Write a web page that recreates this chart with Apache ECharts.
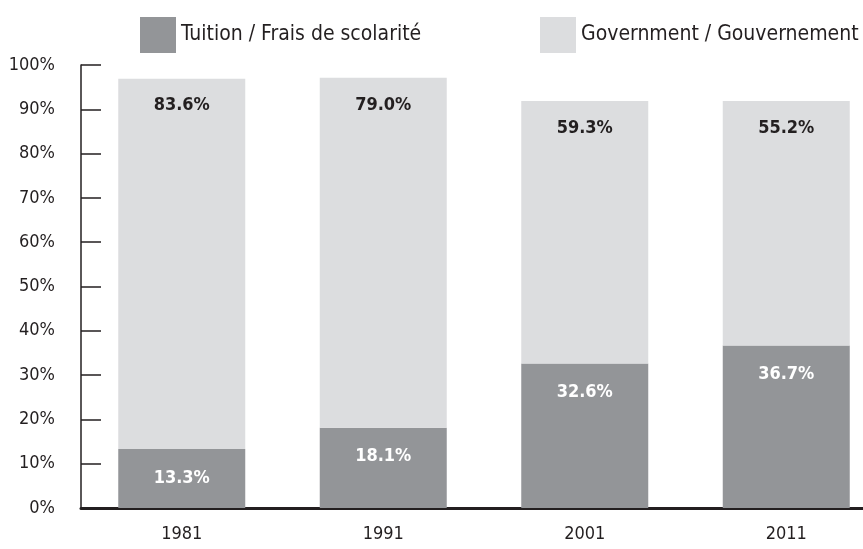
<!DOCTYPE html>
<html>
<head>
<meta charset="utf-8">
<script src="https://cdn.jsdelivr.net/npm/echarts@6/dist/echarts.min.js"></script>
<style>
  html, body { margin: 0; padding: 0; background: #fff; overflow: hidden; }
  /* the axis runs past the right edge of the picture, so the canvas is wider than the window */
  #chart { width: 887px; height: 549px; }
</style>
</head>
<body>
<div id="chart"></div>
<script>
  // data
  var years = ['1981', '1991', '2001', '2011']
  var tuition = [13.3, 18.1, 32.6, 36.7]
  var government = [83.6, 79.0, 59.3, 55.2]
  var tuitionName = 'Tuition / Frais de scolarité'
  var governmentName = 'Government / Gouvernement'

  var font = "'Liberation Sans Narrow', 'DejaVu Sans Condensed', 'Roboto Condensed', sans-serif"
  var ink = '#231f20'

  var chart = echarts.init(document.getElementById('chart'))
  chart.setOption({
    animation: false,
    textStyle: { fontFamily: font },
    legend: [{
      data: [tuitionName],
      left: 140, top: 17, padding: 0,
      itemWidth: 36, itemHeight: 36,
      icon: 'rect',
      textStyle: { fontSize: 21, color: ink, fontFamily: font }
    }, {
      data: [governmentName],
      left: 540, top: 17, padding: 0,
      itemWidth: 36, itemHeight: 36,
      icon: 'rect',
      textStyle: { fontSize: 21, color: ink, fontFamily: font }
    }],
    grid: { left: 81, right: 0, top: 65, bottom: 41 },
    xAxis: {
      type: 'category',
      data: years,
      axisLine: { lineStyle: { color: ink, width: 3 } },
      axisTick: { show: false },
      axisLabel: { color: ink, fontSize: 18, margin: 17, fontFamily: font }
    },
    yAxis: {
      type: 'value',
      min: 0, max: 100, interval: 10,
      axisLine: { show: true, lineStyle: { color: ink, width: 1.5 } },
      axisTick: { show: true, inside: true, length: 20, lineStyle: { color: ink, width: 1.5 } },
      splitLine: { show: false },
      axisLabel: { formatter: '{value}%', color: ink, fontSize: 18, margin: 26, fontFamily: font }
    },
    series: [{
      name: tuitionName,
      type: 'bar',
      stack: 'total',
      barWidth: 127,
      data: tuition,
      itemStyle: { color: '#939598' },
      label: {
        show: true, position: 'insideTop', distance: 20,
        formatter: function (p) { return p.value.toFixed(1) + '%' },
        color: '#fff', fontSize: 18, fontWeight: 'bold', fontFamily: font
      }
    }, {
      name: governmentName,
      type: 'bar',
      stack: 'total',
      barWidth: 127,
      data: government,
      itemStyle: { color: '#dcdddf' },
      label: {
        show: true, position: 'insideTop', distance: 18,
        formatter: function (p) { return p.value.toFixed(1) + '%' },
        color: ink, fontSize: 18, fontWeight: 'bold', fontFamily: font
      }
    }]
  })
</script>
</body>
</html>
